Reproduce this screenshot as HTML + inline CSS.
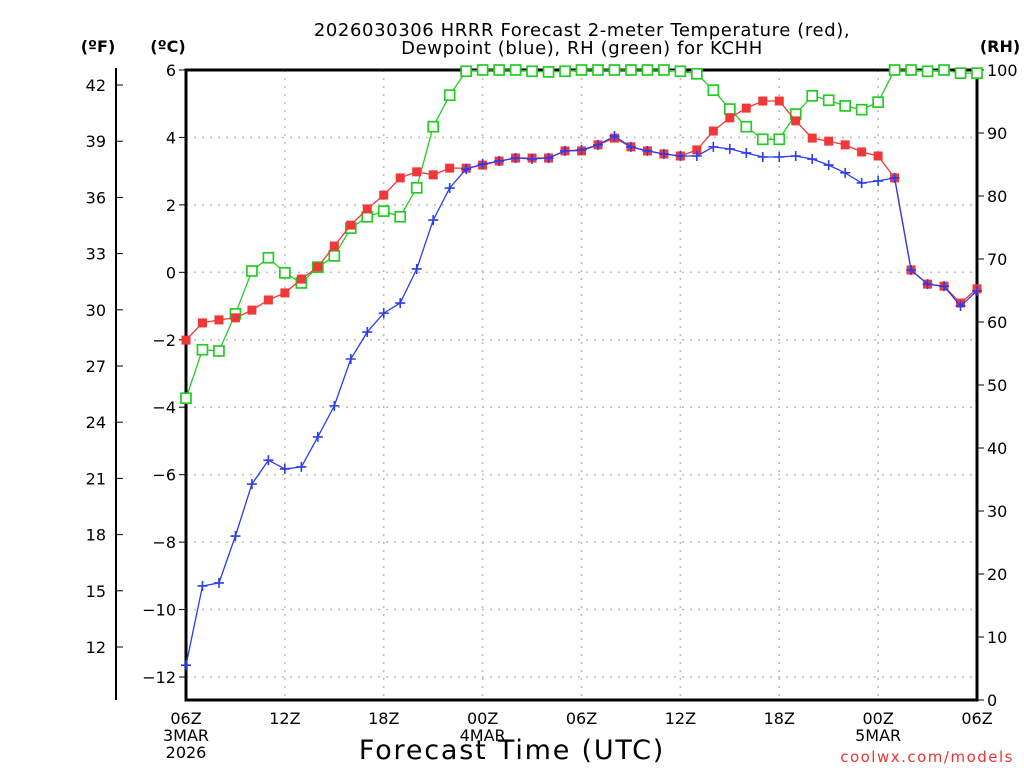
<!DOCTYPE html>
<html><head><meta charset="utf-8"><style>
html,body{margin:0;padding:0;background:#fff;}
svg{display:block;font-family:"DejaVu Sans","Liberation Sans",sans-serif;}
</style></head><body>
<svg id="chart" width="1024" height="768" viewBox="0 0 1024 768" xmlns="http://www.w3.org/2000/svg">
<rect width="1024" height="768" fill="#fff"/>
<text x="582" y="36" text-anchor="middle" font-size="18" letter-spacing="0.6">2026030306 HRRR Forecast 2-meter Temperature (red),</text>
<text x="582" y="54" text-anchor="middle" font-size="18" letter-spacing="0.6">Dewpoint (blue), RH (green) for KCHH</text>
<text x="98" y="52" text-anchor="middle" font-size="16" font-weight="bold">(ºF)</text>
<text x="168" y="52" text-anchor="middle" font-size="16" font-weight="bold">(ºC)</text>
<text x="1000" y="52" text-anchor="middle" font-size="16" font-weight="bold">(RH)</text>
<g id="grid"></g><g id="axes"></g><g id="series"></g>
<text x="512" y="759" text-anchor="middle" font-size="27" letter-spacing="1.8">Forecast Time (UTC)</text>
<text x="1014" y="762" text-anchor="end" font-size="15" letter-spacing="1.5" fill="#e33">coolwx.com/models</text>
</svg>
<script>
const hours = Array.from({length:49},(_, i)=>i);
const tempC = [-2.01,-1.50,-1.41,-1.35,-1.12,-0.82,-0.61,-0.20,0.16,0.78,1.40,1.88,2.29,2.80,2.98,2.89,3.09,3.09,3.18,3.30,3.39,3.39,3.39,3.60,3.60,3.78,3.98,3.72,3.60,3.51,3.45,3.63,4.19,4.58,4.87,5.08,5.08,4.49,3.98,3.89,3.78,3.57,3.45,2.80,0.07,-0.35,-0.41,-0.91,-0.49];
const dewC = [-11.65,-9.30,-9.21,-7.82,-6.28,-5.57,-5.83,-5.77,-4.88,-3.96,-2.57,-1.77,-1.21,-0.91,0.10,1.55,2.50,3.06,3.21,3.30,3.39,3.36,3.39,3.60,3.63,3.78,4.04,3.72,3.60,3.51,3.45,3.45,3.72,3.66,3.54,3.42,3.42,3.45,3.36,3.18,2.95,2.65,2.71,2.80,0.07,-0.35,-0.41,-1.00,-0.55];
const rh = [47.9,55.6,55.4,61.3,68.1,70.2,67.8,66.2,68.7,70.5,74.9,76.7,77.6,76.7,81.3,91.0,96.0,99.8,100,100,100,99.8,99.7,99.8,100,100,100,100,100,100,99.8,99.4,96.8,93.8,91.0,89.0,89.0,93.0,95.9,95.2,94.3,93.7,94.9,100,100,99.8,100,99.5,99.5];
const cTicks = [6,4,2,0,-2,-4,-6,-8,-10,-12];
const fTicks = [42,39,36,33,30,27,24,21,18,15,12];
const rhTicks = [0,10,20,30,40,50,60,70,80,90,100];
const xTickHours = [0,6,12,18,24,30,36,42,48];
const xTickLabels = ["06Z","12Z","18Z","00Z","06Z","12Z","18Z","00Z","06Z"];
const xDateLabels = {0:["3MAR","2026"],18:["4MAR"],42:["5MAR"]};

const X0=186,X1=977,Y0=70,Y1=700;
const xs = h => X0 + (X1-X0)*h/48;
const yc = c => Y0 + (6-c)*(677-70)/18;
const yf = f => yc((f-32)/1.8);
const yr = r => Y1 - (Y1-Y0)*r/100;
const NS="http://www.w3.org/2000/svg";
function mk(parent,tag,attrs){const e=document.createElementNS(NS,tag);for(const k in attrs)e.setAttribute(k,attrs[k]);parent.appendChild(e);return e;}
const grid=document.getElementById('grid'),axes=document.getElementById('axes'),ser=document.getElementById('series');

cTicks.forEach(c=>{
  const y=yc(c);
  const g=mk(grid,'line',{x1:X0,x2:X1,y1:y,y2:y,stroke:'#bbb','stroke-width':1.5,'stroke-dasharray':'2,6'});
  
  
  mk(axes,'line',{x1:X0-7,x2:X0,y1:y,y2:y,stroke:'#000','stroke-width':1});
  const t=mk(axes,'text',{x:X0-10,y:y+6,'text-anchor':'end','font-size':16});
  t.textContent=(c<0?'\u2212'+(-c):String(c));
  
  
});
xTickHours.forEach((h,i)=>{
  const x=xs(h);
  if(i>0&&i<xTickHours.length-1){
    const g=mk(grid,'line',{x1:x,x2:x,y1:Y0,y2:Y1,stroke:'#bbb','stroke-width':1.5,'stroke-dasharray':'2,6'});
    
    
  }
  const t=mk(axes,'text',{x:x,y:724,'text-anchor':'middle','font-size':16});
  t.textContent=xTickLabels[i];
  
  
  (xDateLabels[h]||[]).forEach((s,j)=>{
    const d=mk(axes,'text',{x:x,y:741+j*17,'text-anchor':'middle','font-size':16});
    d.textContent=s;
    
    
  });
});
mk(axes,'line',{x1:116,x2:116,y1:68,y2:700,stroke:'#000','stroke-width':2});
fTicks.forEach(f=>{
  const y=yf(f);
  mk(axes,'line',{x1:116,x2:123,y1:y,y2:y,stroke:'#000','stroke-width':1});
  const t=mk(axes,'text',{x:106,y:y+6,'text-anchor':'end','font-size':16});
  t.textContent=String(f);
  
  
});
rhTicks.forEach(r=>{
  const y=yr(r);
  mk(axes,'line',{x1:X1,x2:X1+7,y1:y,y2:y,stroke:'#000','stroke-width':1});
  const t=mk(axes,'text',{x:X1+10,y:y+6,'text-anchor':'start','font-size':16});
  t.textContent=String(r);
  
  
});
const frame=mk(axes,'rect',{x:X0,y:Y0,width:X1-X0,height:Y1-Y0,fill:'none',stroke:'#000','stroke-width':3});



function series(vals,yfn,color,name,marker){
  const g=mk(ser,'g',{});
  
  
  const pts=vals.map((v,i)=>xs(hours[i]).toFixed(1)+','+yfn(v).toFixed(1)).join(' ');
  mk(g,'polyline',{points:pts,fill:'none',stroke:color,'stroke-width':1.3});
  vals.forEach((v,i)=>{
    const x=xs(hours[i]),y=yfn(v);let m;
    if(marker==='fill'){m=mk(g,'rect',{x:x-4.5,y:y-4.5,width:9,height:9,fill:color});}
    else if(marker==='open'){m=mk(g,'rect',{x:x-5,y:y-5,width:10,height:10,fill:'#fff',stroke:color,'stroke-width':1.7});}
    else {m=mk(g,'path',{d:`M${x-5},${y}H${x+5}M${x},${y-5}V${y+5}`,stroke:color,'stroke-width':1.6});}
    
    
  });
}
series(rh,yr,'#22cc22','rh-series','open');
series(tempC,yc,'#f03838','temperature-series','fill');
series(dewC,yc,'#2a3cf0','dewpoint-series','plus');
</script>
</body></html>
